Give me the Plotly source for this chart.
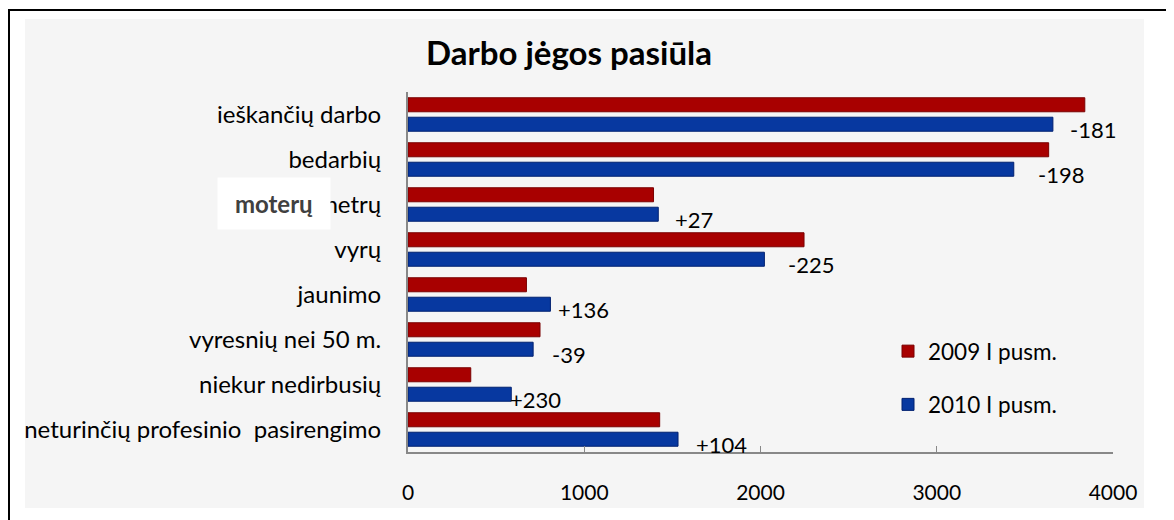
import plotly.graph_objects as go

categories = ["ieškančių darbo", "bedarbių", "metrų", "vyrų", "jaunimo",
              "vyresnių nei 50 m.", "niekur nedirbusių",
              "neturinčių profesinio  pasirengimo"]
values_2009 = [3840, 3635, 1393, 2247, 672, 749, 356, 1428]
values_2010 = [3659, 3437, 1420, 2022, 808, 710, 586, 1532]
change_labels = ["-181", "-198", "+27", "-225", "+136", "-39", "+230", "+104"]
series_names = ["2009 I pusm.", "2010 I pusm."]
title_text = "Darbo jėgos pasiūla"
overlay_label = "moterų"

# style: horizontal shift of each change label from its bar end (px)
label_xshift = [15, 22, 15, 22, 6, 17, -3, 16]

# page has an 8px body margin; figure coordinates = reference px - 8
W, H = 1166, 512
L, R, T, B = 400, 61, 84, 68
pw, ph = W - L - R, H - T - B

def px_x(p):
    return (p - L) / pw

def px_y(p):
    return (H - B - p) / ph

FONT = "Lato, Carlito, Open Sans, sans-serif"

fig = go.Figure()
fig.add_trace(go.Bar(
    y=categories, x=values_2009, orientation="h", name=series_names[0],
    marker=dict(color="#A80000", line=dict(color="#7A0000", width=1)),
    legendgroup="a",
))
fig.add_trace(go.Bar(
    y=categories, x=values_2010, orientation="h", name=series_names[1],
    marker=dict(color="#0738A0", line=dict(color="#002070", width=1)),
    legendgroup="b",
))

annotations = []
for cat, v, lab, dx in zip(categories, values_2010, change_labels, label_xshift):
    annotations.append(dict(
        x=v, y=cat, xref="x", yref="y", text=lab, showarrow=False,
        xanchor="left", yanchor="middle", xshift=dx, yshift=-15,
        font=dict(family=FONT, size=22, color="#000000"),
    ))

# title
annotations.append(dict(
    x=px_x(561), y=px_y(44), xref="paper", yref="paper", text="<b>" + title_text + "</b>",
    showarrow=False, xanchor="center", yanchor="middle",
    font=dict(family=FONT, size=33, color="#000000"),
))
# overlay white box label
annotations.append(dict(
    x=px_x(266), y=px_y(195), xref="paper", yref="paper",
    text="<b>" + overlay_label + "</b>", showarrow=False,
    xanchor="center", yanchor="middle", bgcolor="#FFFFFF",
    width=110, height=49,
    font=dict(family=FONT, size=24, color="#404040"),
))

shapes = [
    # outer frame
    dict(type="rect", xref="paper", yref="paper",
         x0=px_x(1), x1=px_x(1164), y0=px_y(540), y1=px_y(2),
         line=dict(color="#000000", width=2), fillcolor="#FFFFFF", layer="below"),
    # gray chart area
    dict(type="rect", xref="paper", yref="paper",
         x0=px_x(17), x1=px_x(1136), y0=px_y(500), y1=px_y(11),
         line=dict(width=0), fillcolor="#F5F5F5", layer="below"),
]

fig.update_layout(
    width=W, height=H,
    margin=dict(l=L, r=R, t=T, b=B, pad=0, autoexpand=False),
    paper_bgcolor="#FFFFFF", plot_bgcolor="rgba(0,0,0,0)",
    barmode="group", bargap=0.135, bargroupgap=0.28,
    font=dict(family=FONT, size=22, color="#000000"),
    showlegend=True,
    legend=dict(
        x=px_x(880), y=px_y(322), xanchor="left", yanchor="top",
        traceorder="grouped", tracegroupgap=21,
        font=dict(family=FONT, size=22.5, color="#000000"),
        bgcolor="rgba(0,0,0,0)", itemwidth=30,
    ),
    annotations=annotations,
    shapes=shapes,
    xaxis=dict(
        range=[0, 4000], tickvals=[0, 1000, 2000, 3000, 4000],
        showgrid=False, zeroline=False, showline=True, linecolor="#888888", linewidth=2,
        ticks="inside", ticklen=6, tickcolor="#888888", tickwidth=1,
        ticklabelstandoff=21, automargin=False,
        tickfont=dict(family=FONT, size=21, color="#000000"),
    ),
    yaxis=dict(
        range=[len(categories) - 0.5, -0.5], showgrid=False, zeroline=False,
        showline=True, linecolor="#888888", linewidth=2, ticks="",
        ticklabelstandoff=20, automargin=False,
        tickfont=dict(family=FONT, size=24, color="#000000"),
    ),
)

fig.write_html("out.html")
